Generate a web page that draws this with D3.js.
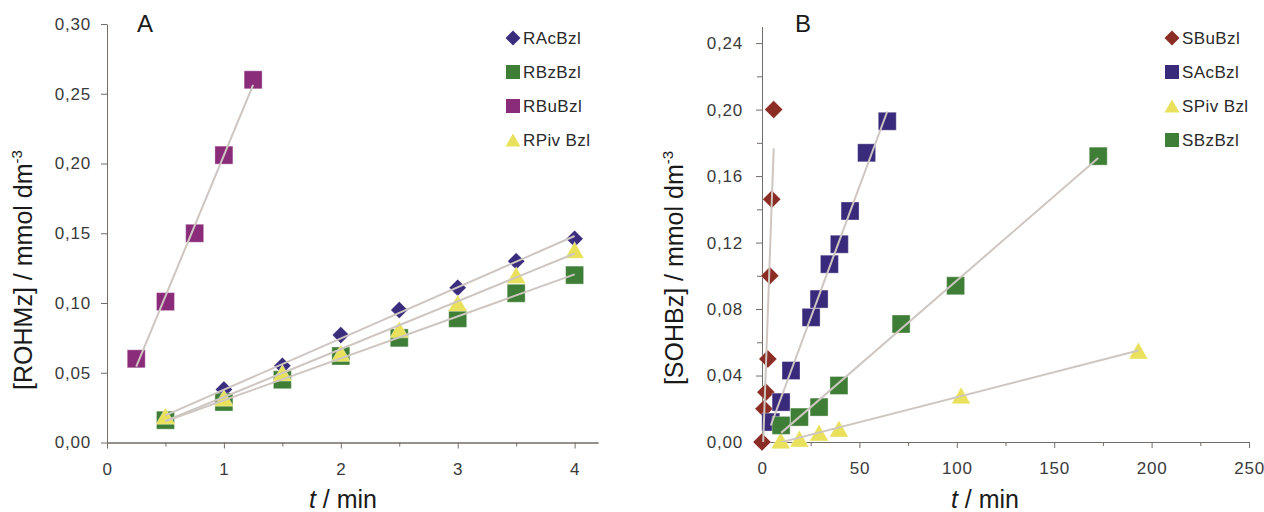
<!DOCTYPE html>
<html>
<head>
<meta charset="utf-8">
<script src="https://cdn.jsdelivr.net/npm/d3@7"></script>
<style>
  body { margin: 0; background: #fff; }
  svg { display: block; font-family: 'Liberation Sans', Arial, sans-serif; }
  .tick text { fill: #3a3a3a; font-size: 17px; }
  .axis path, .axis line { stroke: #746c66; }
  .axes_label { fill: #1a1a1a; font-size: 25px; }
  .legend_text { fill: #2a2a2a; font-size: 17px; letter-spacing: 0.4px; }
</style>
</head>
<body>
<svg id="graph" width="1264" height="512"></svg>
<script>
/*******************************************************************************************/
// Data

var timeA   = [0.5, 1, 1.5, 2, 2.5, 3, 3.5, 4];
var rAcBzl  = [0.018, 0.038, 0.055, 0.077, 0.095, 0.111, 0.130, 0.146];
var rBzBzl  = [0.016, 0.029, 0.045, 0.062, 0.075, 0.089, 0.107, 0.120];
var rPivBzl = [0.019, 0.032, 0.050, 0.064, 0.081, 0.100, 0.120, 0.138];
var timeRBu = [0.25, 0.5, 0.75, 1, 1.25];
var rBuBzl  = [0.060, 0.101, 0.150, 0.206, 0.260];

var timeSBu  = [0, 1, 2, 3, 4, 5, 6];
var sBuBzl   = [0, 0.020, 0.030, 0.050, 0.100, 0.146, 0.200];
var timeSAc  = [4.5, 9.8, 14.9, 25.2, 29.3, 34.6, 39.7, 45.2, 53.7, 64.3];
var sAcBzl   = [0.012, 0.024, 0.043, 0.075, 0.086, 0.107, 0.119, 0.139, 0.174, 0.193];
var timeSPiv = [9.6, 19.2, 29.3, 39.5, 102.2, 193.2];
var sPivBzl  = [0.001, 0.002, 0.0056, 0.008, 0.028, 0.055];
var timeSBz  = [9.8, 19.2, 29.3, 39.5, 71.4, 99.4, 172.6];
var sBzBzl   = [0.010, 0.015, 0.021, 0.034, 0.071, 0.094, 0.172];

var ticksAx = [0, 1, 2, 3, 4], minorAx = [0.5, 1.5, 2.5, 3.5];
var ticksAy = [0, 0.05, 0.10, 0.15, 0.20, 0.25, 0.30];
var ticksBx = [0, 50, 100, 150, 200, 250], minorBx = [25, 75, 125, 175, 225];
var ticksBy = [0, 0.04, 0.08, 0.12, 0.16, 0.20, 0.24], minorBy = [0.02, 0.06, 0.10, 0.14, 0.18, 0.22];

/*******************************************************************************************/
// Helpers

var comma = function(n){ return function(d){ return d3.format('.' + n + 'f')(d).replace('.', ','); } };
var zip = function(xs, ys){ return xs.map(function(x, i){ return { x: x, y: ys[i] } }) };

function markerPath(shape, s){
  if (shape == 'square') return 'M' + (-s/2) + ',' + (-s/2) + 'h' + s + 'v' + s + 'h' + (-s) + 'Z';
  if (shape == 'diamond') return 'M0,' + (-s/2) + 'L' + (s/2) + ',0L0,' + (s/2) + 'L' + (-s/2) + ',0Z';
  var h = s * 0.88;
  return 'M0,' + (-h/2) + 'L' + (s/2) + ',' + (h/2) + 'L' + (-s/2) + ',' + (h/2) + 'Z';
}

function fit(pts){
  var mx = d3.mean(pts, function(d){ return d.x }), my = d3.mean(pts, function(d){ return d.y });
  var sxy = d3.sum(pts, function(d){ return (d.x - mx) * (d.y - my) });
  var sxx = d3.sum(pts, function(d){ return (d.x - mx) * (d.x - mx) });
  var b = sxy / sxx, a = my - b * mx;
  var x0 = d3.min(pts, function(d){ return d.x }), x1 = d3.max(pts, function(d){ return d.x });
  return [{ x: x0, y: a + b * x0 }, { x: x1, y: a + b * x1 }];
}

var svg = d3.select('#graph');

/*******************************************************************************************/
// Panel drawing

function drawPanel(p){
  var g = svg.append('g');

  g.append('clipPath').attr('id', p.id + '_clip').append('rect')
    .attr('x', p.x.range()[0]).attr('y', p.y.range()[1])
    .attr('width', p.x.range()[1] - p.x.range()[0]).attr('height', p.y.range()[0] - p.y.range()[1]);

  // axes
  var y0 = p.y.range()[0], x0 = p.x.range()[0];
  g.append('g').attr('class', 'axis').attr('transform', 'translate(0,' + y0 + ')')
    .call(d3.axisBottom(p.x).tickValues(p.xMinor).tickSize(4).tickSizeOuter(0).tickFormat(''));
  g.append('g').attr('class', 'axis').attr('transform', 'translate(0,' + y0 + ')')
    .call(d3.axisBottom(p.x).tickValues(p.xTicks).tickSize(6).tickSizeOuter(0).tickPadding(14).tickFormat(d3.format('d')));
  if (p.yMinor) g.append('g').attr('class', 'axis').attr('transform', 'translate(' + x0 + ',0)')
    .call(d3.axisLeft(p.y).tickValues(p.yMinor).tickSize(5).tickSizeOuter(0).tickFormat(''));
  g.append('g').attr('class', 'axis').attr('transform', 'translate(' + x0 + ',0)')
    .call(d3.axisLeft(p.y).tickValues(p.yTicks).tickSize(6).tickSizeOuter(0).tickPadding(p.yPad).tickFormat(comma(2)));
  g.selectAll('.axis .tick text').style('letter-spacing', '0.8px');

  // markers
  p.series.forEach(function(s){
    g.append('g').selectAll('path').data(zip(s.t, s.v)).enter().append('path')
      .attr('d', markerPath(s.shape, s.size))
      .attr('transform', function(d){ return 'translate(' + p.x(d.x) + ',' + p.y(d.y) + ')' })
      .style('fill', s.color).style('stroke', '#fff').style('stroke-opacity', 0.35).style('stroke-width', 1);
  });

  // trend lines
  var line = d3.line().x(function(d){ return p.x(d.x) }).y(function(d){ return p.y(d.y) });
  p.series.forEach(function(s){
    g.append('path').attr('d', line(fit(zip(s.t, s.v)))).attr('clip-path', 'url(#' + p.id + '_clip)')
      .style('fill', 'none').style('stroke', '#cec6c1').style('stroke-width', 2);
  });

  // legend
  p.legend.forEach(function(name, i){
    var s = p.series.filter(function(d){ return d.name == name })[0];
    var ly = p.legendY + i * 34;
    g.append('path').attr('d', markerPath(s.shape, s.legSize)).attr('transform', 'translate(' + p.legendX + ',' + ly + ')')
      .style('fill', s.color);
    g.append('text').attr('class', 'legend_text').attr('x', p.legendX + 10).attr('y', ly + 6).text(name);
  });

  // labels
  g.append('text').attr('class', 'axes_label').attr('x', p.letterX).attr('y', 32).style('font-size', '24px').text(p.letter);
  g.append('text').attr('class', 'axes_label').attr('x', p.xLabelX).attr('y', 508).style('text-anchor', 'middle')
    .html('<tspan font-style="italic">t</tspan> / min');
  var yl = g.append('text').attr('class', 'axes_label').style('text-anchor', 'middle')
    .attr('transform', 'translate(' + p.yLabelX + ',' + p.yLabelY + ') rotate(-90)');
  yl.append('tspan').text(p.yTitle + ' / mmol dm');
  yl.append('tspan').attr('dy', -10).style('font-size', '15px').text('-3');
}

/*******************************************************************************************/
// Panel A

drawPanel({
  id: 'A', letter: 'A', letterX: 137,
  x: d3.scaleLinear().domain([0, 4.2]).range([107, 598]),
  y: d3.scaleLinear().domain([0, 0.30]).range([442.5, 24]),
  xTicks: ticksAx, xMinor: minorAx, yTicks: ticksAy, yMinor: null, yPad: 10,
  xLabelX: 343, yLabelX: 32, yLabelY: 270, yTitle: '[ROHMz]',
  legendX: 513, legendY: 38,
  legend: ['RAcBzl', 'RBzBzl', 'RBuBzl', 'RPiv Bzl'],
  series: [
    { name: 'RAcBzl',   t: timeA,   v: rAcBzl,  shape: 'diamond',  size: 17, legSize: 15, color: '#3b2d7d' },
    { name: 'RBzBzl',   t: timeA,   v: rBzBzl,  shape: 'square',   size: 18, legSize: 14, color: '#3f7e36' },
    { name: 'RBuBzl',   t: timeRBu, v: rBuBzl,  shape: 'square',   size: 18, legSize: 14, color: '#8a2c7a' },
    { name: 'RPiv Bzl', t: timeA,   v: rPivBzl, shape: 'triangle', size: 19, legSize: 15, color: '#e9e15c' }
  ]
});

/*******************************************************************************************/
// Panel B

drawPanel({
  id: 'B', letter: 'B', letterX: 795,
  x: d3.scaleLinear().domain([0, 250]).range([762, 1249]),
  y: d3.scaleLinear().domain([0, 0.25]).range([442, 26.5]),
  xTicks: ticksBx, xMinor: minorBx, yTicks: ticksBy, yMinor: minorBy, yPad: 13,
  xLabelX: 985, yLabelX: 683, yLabelY: 268, yTitle: '[SOHBz]',
  legendX: 1172, legendY: 38,
  legend: ['SBuBzl', 'SAcBzl', 'SPiv Bzl', 'SBzBzl'],
  series: [
    { name: 'SBuBzl',   t: timeSBu,  v: sBuBzl,  shape: 'diamond',  size: 18, legSize: 15, color: '#8b2d24' },
    { name: 'SAcBzl',   t: timeSAc,  v: sAcBzl,  shape: 'square',   size: 18, legSize: 14, color: '#392a7b' },
    { name: 'SPiv Bzl', t: timeSPiv, v: sPivBzl, shape: 'triangle', size: 19, legSize: 15, color: '#e9e15c' },
    { name: 'SBzBzl',   t: timeSBz,  v: sBzBzl,  shape: 'square',   size: 18, legSize: 14, color: '#3f7e36' }
  ]
});
</script>
</body>
</html>
